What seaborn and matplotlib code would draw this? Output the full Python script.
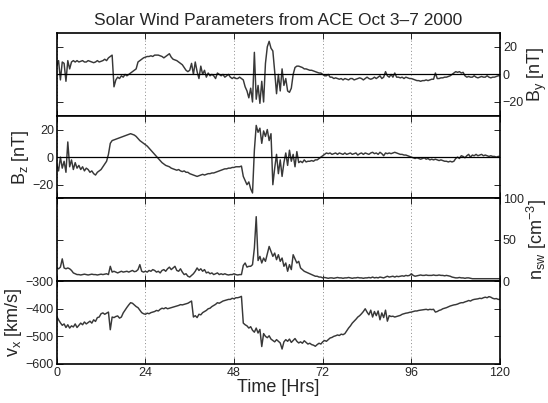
import numpy as np
import pandas as pd
import matplotlib
matplotlib.use("Agg")
import matplotlib.pyplot as plt
import seaborn as sns

# ---- data (half-hour samples) ----
hours = np.arange(0, 120.5, 0.5)

by_nT = [
    6, 10, -4, 9, 8, -5, 10, 4, 9, 10, 9, 10,
    9, 9.5, 10, 9, 9, 10, 9.5, 9, 8.5, 9, 10, 9,
    9.5, 10, 11, 10, 12, 13, 14, -9, -4, -2, -3, -1,
    -2, 0, -1, 0, 1, 2, 3, 4, 9, 10, 11, 12,
    12.5, 13, 13, 13.5, 13, 14, 14, 14, 13.5, 13, 12, 13,
    14, 15, 12.5, 11, 10.5, 10, 9, 8, 7, 5, 3, 2,
    3, 8, 0, 9, 2, -3, 6, 0, 3, -2, 1, -1,
    0, -1, -3, 1, 0, -1, 0, -2, -1, 0, -2, -3,
    -2, -3, -3, -2, -3, -4, -9, -12, -17, -10, -20, 16,
    -18, -8, -21, -5, -20, 8, 20, 24, 19, 17, 2, -14,
    0, -12, 4, -8, -3, -12, -13, -10, 0, 5, 6, 6,
    5.5, 5, 4, 4, 3.5, 3, 3, 2.5, 2, 1.5, 1, 1,
    0, -1, -1, 0, -2, -2, -3, -2.5, -3, -3.5, -3, -4,
    -3, -3.5, -4, -3, -3, -4, -3.5, -3, -2.5, -3, -4, -3,
    -2, -3, -3.5, -3, -2, -3, -2, -1, -3, -2, 2, -1,
    -2, 0, -2, 1, -2, -2, -2.5, -2, -3, -2, -2.5, -3,
    -3, -3.5, -4, -4.5, -4.5, -5, -4.5, -4.5, -4, -4.5, -4, -3.5,
    -3.5, 1, -3, -3, -2.5, -2.5, -2, -2, -1.5, -1, 0, 1,
    2, 1.5, 2, 1, 1.5, -1, -2, -1.5, -2, -2, -1, -2,
    -2.5, -2, -1.5, -2, -2, -1, -2, -2.5, -2, -2, -1.5, -1,
    -1,
]

bz_nT = [
    -5, -10, 0, -8, -3, -11, 11, -7, -2, -9, -4, -8,
    -6, -9, -7, -10, -8, -9, -11, -10, -12, -13, -11, -10,
    -9, -7, -5, -3, 2, 10, 12, 12.5, 13, 13.5, 14, 14.5,
    15, 15.5, 16, 16.5, 17, 16.5, 16, 15, 13.5, 12, 11, 10,
    9, 8, 6.5, 5, 3.5, 2, 0.5, -1, -2.5, -4, -5, -6,
    -6.5, -7, -8, -8.5, -9, -9.5, -9, -10, -10.5, -10, -11, -11,
    -12, -12.5, -13, -13.5, -14, -13.5, -13, -12.5, -13, -12.5, -12, -12,
    -11.5, -11.5, -11, -10.5, -10, -9.5, -9, -8.5, -8.5, -8, -8, -7.5,
    -7.5, -7, -7, -7, -6.5, -14, -17, -20, -18, -23, -26, 5,
    23, 18, 21, 10, 19, 15, 20, 12, 17, -20, -8, 2,
    -12, -2, -14, -4, 3, -6, 5, -3, 2, -7, 4, -4,
    -3, -4, -2, -3.5, -3, -3, -2.5, -3, -2, -2, -1, 0,
    1, 2, 3, 2.5, 3, 2, 2.5, 3, 2, 3, 2.5, 2,
    3, 2, 2.5, 3, 2, 2.5, 3, 1.5, 2.5, 3, 2, 3,
    2.5, 2, 3, 3.5, 2.5, 3, 2, 3.5, 2.5, 1, 3, 2.5,
    3, 2.5, 3, 3.5, 3, 2.5, 2, 2, 1.5, 1.5, 1, 0.5,
    0, -0.5, -1, -0.5, -1, -1.5, -1, -0.5, -1.5, -1, -2, -1.5,
    -2, -1.5, -2, -2.5, -2, -2.5, -3, -3, -3.5, -3, -3.5, -3,
    -1, 0, -1, 1, 0.5, -0.5, 1, 2, 0, 1.5, 1, 2,
    1, 1.5, 2, 1, 1.5, 1, 0.5, 1, 0.5, 0.5, 0, 0.5,
    0.5,
]

nsw_cm3 = [
    16, 15, 17, 27, 16, 15, 16, 15, 13, 10, 9, 8,
    8, 7.5, 8, 8.5, 8, 7.5, 8, 8.5, 8, 8, 7.5, 8,
    8.5, 8, 8.5, 9, 8, 18, 11, 12, 11, 10, 11, 12,
    11, 11.5, 12, 11, 12, 13, 11.5, 12, 14, 20, 12, 11,
    12, 11, 13, 12, 14, 13, 11, 12, 10, 13, 14, 12,
    15, 17, 14, 16, 18, 13, 12, 15, 11, 8, 9, 6,
    5, 7, 9, 12, 16, 13, 15, 12, 14, 10, 11, 9,
    10, 8, 9, 10, 8, 9, 8, 9, 8, 7.5, 8, 8,
    9, 8, 7.5, 8, 8, 19, 22, 17, 18, 18, 20, 40,
    78, 25, 30, 22, 28, 24, 33, 42, 36, 30, 34, 26,
    32, 24, 28, 18, 22, 12, 20, 14, 32, 27, 22, 24,
    16, 14, 12, 11, 10, 9, 8, 7, 6, 6, 5, 5,
    4, 4.5, 4, 3.5, 4, 4, 3.5, 4, 4.5, 4, 4, 3.5,
    4, 4, 4.5, 4, 3.5, 4, 4, 4.5, 4, 4, 3.5, 4,
    4, 4.5, 4, 5, 4, 4.5, 4, 5, 4.5, 4, 5, 6,
    5, 5.5, 6, 5, 6, 5.5, 6, 6.5, 6, 7, 6.5, 7,
    9, 7, 6, 6.5, 7, 7.5, 7, 7, 7.5, 7, 7, 7,
    7.5, 7, 7, 7.5, 7, 7, 6.5, 7, 6.5, 6, 5, 4.5,
    4, 4, 4.5, 4, 4, 3.5, 4, 4, 3.5, 3, 3, 3,
    3, 3, 3, 3, 3, 3, 3, 3, 3, 3, 3, 3,
    3,
]

vx_kms = [
    -428, -440, -451, -460, -455, -468, -458, -470, -462, -466, -455, -468,
    -460, -452, -458, -448, -455, -450, -445, -452, -440, -446, -432, -430,
    -418, -415, -420, -416, -412, -476, -430, -432, -428, -426, -434, -430,
    -415, -405, -395, -386, -378, -380, -386, -392, -396, -405, -414, -418,
    -420, -416, -418, -414, -412, -410, -406, -408, -402, -398, -400, -396,
    -400, -398, -396, -394, -392, -390, -388, -385, -386, -384, -382, -380,
    -376, -372, -430, -425, -432, -420, -422, -414, -410, -406, -400, -398,
    -392, -388, -384, -378, -380, -376, -372, -370, -368, -366, -366, -362,
    -364, -360, -360, -358, -355, -452, -458, -462, -470, -465, -478, -485,
    -470, -488, -475, -537, -490, -500, -505, -498, -510, -515, -520, -512,
    -518, -524, -546, -520, -512, -518, -510, -522, -515, -508, -518, -524,
    -520, -525, -516, -522, -528, -525, -530, -532, -536, -530, -525, -528,
    -520, -515, -518, -512, -506, -504, -500, -498, -495, -497, -492, -494,
    -490, -480, -470, -462, -452, -445, -438, -430, -425, -418, -410, -400,
    -412, -422, -405, -430, -410, -425, -408, -440, -415, -432, -405, -445,
    -425, -428, -427, -430, -428, -426, -424, -420, -418, -416, -415, -413,
    -412, -410, -408, -408, -406, -405, -404, -403, -402, -404, -402, -403,
    -402, -412, -410, -406, -404, -400, -398, -396, -393, -390, -388, -386,
    -385, -383, -380, -378, -378, -375, -373, -370, -372, -368, -366, -365,
    -364, -362, -363, -360, -358, -360, -356, -358, -362, -364, -363, -366,
    -366,
]

x_ticks = [0, 24, 48, 72, 96, 120]
title = "Solar Wind Parameters from ACE Oct 3\u20137 2000"

panels = [
    dict(y=by_nT, lim=(-30, 30), ticks=[-20, 0, 20], label="B$_\\mathregular{y}$ [nT]", side="right", zero=True),
    dict(y=bz_nT, lim=(-30, 30), ticks=[-20, 0, 20], label="B$_\\mathregular{z}$ [nT]", side="left", zero=True),
    dict(y=nsw_cm3, lim=(0, 100), ticks=[0, 50, 100], label="n$_\\mathregular{sw}$ [cm$^\\mathregular{-3}$]", side="right", zero=False),
    dict(y=vx_kms, lim=(-600, -300), ticks=[-600, -500, -400, -300], label="v$_\\mathregular{x}$ [km/s]", side="left", zero=False),
]

# ---- style ----
sns.set_style("ticks")
plt.rcParams["font.family"] = ["Liberation Sans", "DejaVu Sans"]
plt.rcParams["mathtext.fontset"] = "custom"
plt.rcParams["mathtext.rm"] = "Liberation Sans"
plt.rcParams["mathtext.it"] = "Liberation Sans"
plt.rcParams["axes.unicode_minus"] = True

fig = plt.figure(figsize=(5.48, 4.03), dpi=100)
gs = fig.add_gridspec(4, 1, left=0.1035, right=0.9125, top=0.918, bottom=0.097, hspace=0)
line_color = "#383838"

axes = []
for i, p in enumerate(panels):
    ax = fig.add_subplot(gs[i], sharex=axes[0] if axes else None)
    axes.append(ax)
    df = pd.DataFrame({"t": hours, "v": p["y"]})
    sns.lineplot(data=df, x="t", y="v", ax=ax, color=line_color, linewidth=1.05, estimator=None)
    if p["zero"]:
        ax.axhline(0, color="black", linewidth=0.9, zorder=3)
    ax.set_xlim(0, 120)
    ax.set_ylim(*p["lim"])
    ax.set_yticks(p["ticks"])
    ax.set_xticks(x_ticks)
    ax.grid(axis="x", linestyle=(0, (1, 2.5)), color="#8a8a8a", linewidth=0.7)
    ax.tick_params(axis="both", direction="in", length=4, width=0.7, labelsize=9,
                   left=True, right=True, top=True, bottom=True, pad=2)
    ax.set_xlabel("")
    if p["side"] == "right":
        ax.tick_params(axis="y", labelleft=False, labelright=True)
        ax.yaxis.set_label_position("right")
        ax.set_ylabel(p["label"], fontsize=13, labelpad=1)
    else:
        ax.tick_params(axis="y", labelleft=True, labelright=False)
        ax.set_ylabel(p["label"], fontsize=13, labelpad=1)
    for s in ax.spines.values():
        s.set_linewidth(1.2)
        s.set_color("black")
    if i < 3:
        ax.tick_params(axis="x", labelbottom=False)

axes[-1].set_xlabel("Time [Hrs]", fontsize=13, labelpad=0)
axes[0].set_title(title, fontsize=12.5, pad=6)

fig.savefig("out.png", dpi=100)
